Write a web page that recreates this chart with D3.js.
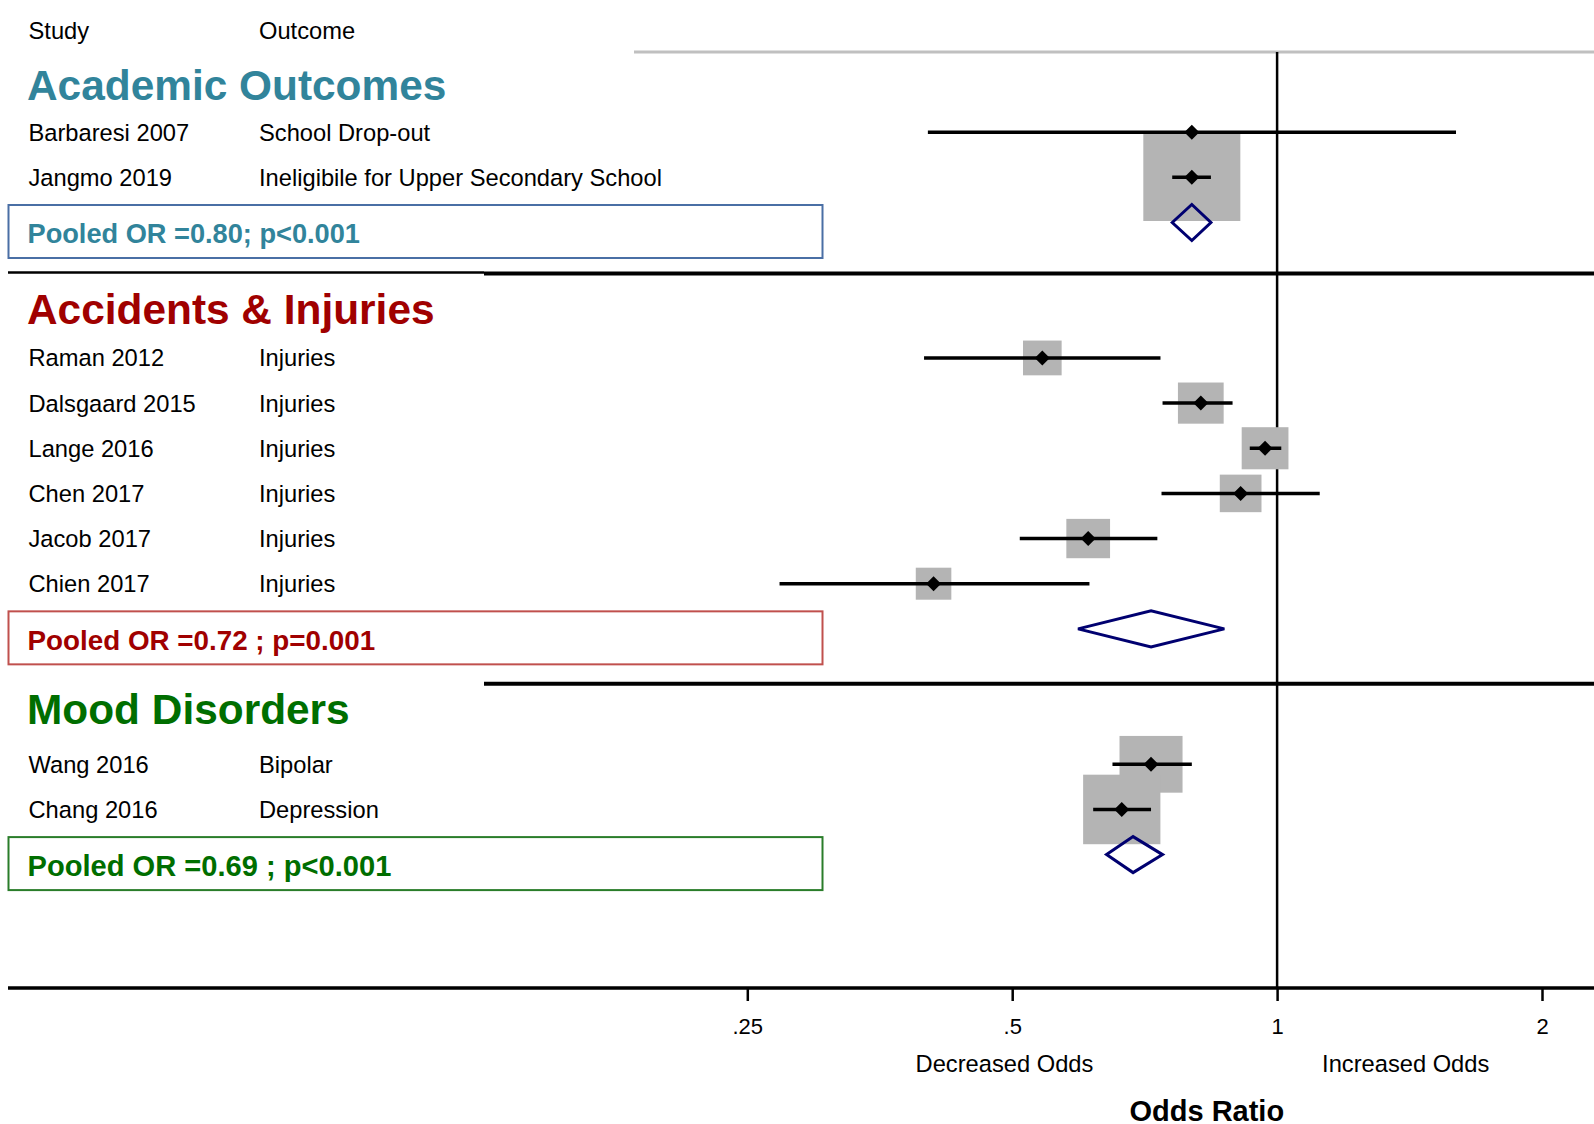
<!DOCTYPE html>
<html>
<head>
<meta charset="utf-8">
<script src="https://cdn.jsdelivr.net/npm/d3@7"></script>
<style>
  body { margin: 0; background: #fff; }
  svg text { font-family: "Liberation Sans", Arial, Helvetica, sans-serif; }
</style>
</head>
<body>
<div id="container"></div>
<script>
/* DATA */
const groups = ["Academic Outcomes", "Accidents & Injuries", "Mood Disorders"];
const groupColors = ["#31849b", "#a00000", "#006e00"];
const boxColors = ["#4a6fa5", "#c0504d", "#2a7d2a"];

const studies = ["Barbaresi 2007", "Jangmo 2019", "Raman 2012", "Dalsgaard 2015", "Lange 2016",
  "Chen 2017", "Jacob 2017", "Chien 2017", "Wang 2016", "Chang 2016"];
const outcomes = ["School Drop-out", "Ineligibile for Upper Secondary School", "Injuries", "Injuries",
  "Injuries", "Injuries", "Injuries", "Injuries", "Bipolar", "Depression"];
const studyGroup = [0, 0, 1, 1, 1, 1, 1, 1, 2, 2];
const oddsRatio = [0.800, 0.800, 0.541, 0.819, 0.969, 0.909, 0.610, 0.407, 0.719, 0.666];
const lowerCI   = [0.401, 0.760, 0.397, 0.741, 0.931, 0.739, 0.510, 0.272, 0.650, 0.618];
const upperCI   = [1.597, 0.841, 0.737, 0.890, 1.011, 1.118, 0.731, 0.612, 0.800, 0.719];
const weights   = [0.5, 99.0, 15.7, 22.0, 23.0, 18.3, 20.1, 13.3, 41.8, 62.8];

const pooledOR    = [0.800, 0.719, 0.686];
const pooledLower = [0.760, 0.594, 0.640];
const pooledUpper = [0.841, 0.871, 0.741];
const pooledLabels = ["Pooled OR =0.80; p<0.001", "Pooled OR =0.72 ; p=0.001", "Pooled OR =0.69 ; p<0.001"];

const xTicks = [0.25, 0.5, 1, 2];
const xTickLabels = [".25", ".5", "1", "2"];

/* CONSTANTS */
const width = 1594, height = 1124;
const axisY = 988;
const font = 23.7;
// small hand-placed nudges, as in the edited original
const headShift = [1, 0, -7];
const sepShift = [51, 55];
const pooledFont = [27.2, 27.8, 29.1];

const svg = d3.select("#container")
  .append("svg")
  .attr("width", width)
  .attr("height", height);

// SCALES
const x = d3.scaleLog().base(2)
  .domain([0.25, 2])
  .range([747.3, 1542]);

const y = d3.scaleLinear()
  .domain([0, 18])
  .range([41.9, 41.9 + 18 * 45.15]);

const boxSize = d3.scaleSqrt()
  .domain([0, 100])
  .range([0, 97.5]);

// ROW LAYOUT: heading, studies, pooled, separator for each group
let row = 1;
const studyRow = [], groupInfo = [];
groups.forEach((g, gi) => {
  const headRow = row;
  row++;
  studies.forEach((s, i) => {
    if (studyGroup[i] === gi) { studyRow[i] = row; row++; }
  });
  groupInfo.push({ name: g, gi, headRow, firstRow: headRow + 1, pooledRow: row });
  row += 2;
});

// header
svg.append("text").attr("x", 28.5).attr("y", 38.5).attr("font-size", font).text("Study");
svg.append("text").attr("x", 259).attr("y", 38.5).attr("font-size", font).text("Outcome");

// top grey rule
svg.append("line")
  .attr("x1", 634).attr("x2", width)
  .attr("y1", 52).attr("y2", 52)
  .attr("stroke", "#c0c0c0").attr("stroke-width", 3);

// null line at OR = 1
svg.append("line")
  .attr("x1", x(1)).attr("x2", x(1))
  .attr("y1", 52).attr("y2", axisY)
  .attr("stroke", "black").attr("stroke-width", 2.5);

// GROUP HEADINGS, POOLED BOXES, SEPARATORS
groupInfo.forEach(d => {
  svg.append("text")
    .attr("x", 27)
    .attr("y", y(d.firstRow) - 33.5 + headShift[d.gi])
    .attr("font-size", 42.4)
    .attr("font-weight", "bold")
    .attr("fill", groupColors[d.gi])
    .text(d.name);

  const by = y(d.pooledRow) + 9;
  svg.append("rect")
    .attr("x", 8.5).attr("y", by - 26.5)
    .attr("width", 814).attr("height", 53)
    .attr("fill", "none")
    .attr("stroke", boxColors[d.gi])
    .attr("stroke-width", 2);

  svg.append("text")
    .attr("x", 27.5)
    .attr("y", by + 2 + pooledFont[d.gi] * 0.36)
    .attr("font-size", pooledFont[d.gi])
    .attr("font-weight", "bold")
    .attr("fill", groupColors[d.gi])
    .text(pooledLabels[d.gi]);

  if (d.gi < groups.length - 1) {
    const sy = y(d.pooledRow) + sepShift[d.gi];
    if (d.gi === 0) {
      svg.append("line")
        .attr("x1", 8).attr("x2", 484)
        .attr("y1", sy - 1).attr("y2", sy - 1)
        .attr("stroke", "black").attr("stroke-width", 2.5);
    }
    svg.append("line")
      .attr("x1", 484).attr("x2", width)
      .attr("y1", sy).attr("y2", sy)
      .attr("stroke", "black").attr("stroke-width", 4);
  }
});

// STUDY LABELS
const idx = d3.range(studies.length);

svg.selectAll("text.study")
  .data(idx)
  .join("text")
  .attr("class", "study")
  .attr("x", 28.5)
  .attr("y", i => y(studyRow[i]) + 8.5)
  .attr("font-size", font)
  .text(i => studies[i]);

svg.selectAll("text.outcome")
  .data(idx)
  .join("text")
  .attr("class", "outcome")
  .attr("x", 259)
  .attr("y", i => y(studyRow[i]) + 8.5)
  .attr("font-size", font)
  .text(i => outcomes[i]);

// WEIGHT BOXES
svg.selectAll("rect.weight")
  .data(idx)
  .join("rect")
  .attr("class", "weight")
  .attr("x", i => x(oddsRatio[i]) - boxSize(weights[i]) / 2)
  .attr("y", i => y(studyRow[i]) - boxSize(weights[i]) * 0.9 / 2)
  .attr("width", i => boxSize(weights[i]))
  .attr("height", i => boxSize(weights[i]) * 0.9)
  .attr("fill", "#b4b4b4");

// CONFIDENCE INTERVALS
svg.selectAll("line.ci")
  .data(idx)
  .join("line")
  .attr("class", "ci")
  .attr("x1", i => x(lowerCI[i]))
  .attr("x2", i => x(upperCI[i]))
  .attr("y1", i => y(studyRow[i]))
  .attr("y2", i => y(studyRow[i]))
  .attr("stroke", "black")
  .attr("stroke-width", 3.5);

// POINT ESTIMATES
svg.selectAll("path.point")
  .data(idx)
  .join("path")
  .attr("class", "point")
  .attr("d", "M0,-7.5L7.5,0L0,7.5L-7.5,0Z")
  .attr("transform", i => `translate(${x(oddsRatio[i])},${y(studyRow[i])})`)
  .attr("fill", "black");

// POOLED DIAMONDS
svg.selectAll("path.pooled")
  .data(groupInfo)
  .join("path")
  .attr("class", "pooled")
  .attr("d", d => {
    const cy = y(d.pooledRow), h = 18;
    return `M${x(pooledLower[d.gi])},${cy}L${x(pooledOR[d.gi])},${cy - h}` +
      `L${x(pooledUpper[d.gi])},${cy}L${x(pooledOR[d.gi])},${cy + h}Z`;
  })
  .attr("fill", "none")
  .attr("stroke", "#000070")
  .attr("stroke-width", 3);

// X AXIS
svg.append("line")
  .attr("x1", 8).attr("x2", width)
  .attr("y1", axisY).attr("y2", axisY)
  .attr("stroke", "black").attr("stroke-width", 3.5);

const xAxis = d3.axisBottom(x)
  .tickValues(xTicks)
  .tickFormat((d, i) => xTickLabels[i])
  .tickSize(13)
  .tickPadding(17);

const gx = svg.append("g")
  .attr("transform", `translate(0,${axisY})`)
  .call(xAxis);
gx.select(".domain").remove();
gx.selectAll(".tick line").attr("stroke", "black").attr("stroke-width", 2.5);
gx.selectAll(".tick text")
  .attr("font-size", 22)
  .attr("font-family", "Liberation Sans, Arial, sans-serif")
  .attr("fill", "black");

svg.append("text")
  .attr("x", x(0.49)).attr("y", 1071.5)
  .attr("text-anchor", "middle")
  .attr("font-size", font)
  .text("Decreased Odds");

svg.append("text")
  .attr("x", x(1.4)).attr("y", 1071.5)
  .attr("text-anchor", "middle")
  .attr("font-size", font)
  .text("Increased Odds");

svg.append("text")
  .attr("x", x(0.832)).attr("y", 1121)
  .attr("text-anchor", "middle")
  .attr("font-size", 29)
  .attr("font-weight", "bold")
  .text("Odds Ratio");
</script>
</body>
</html>
